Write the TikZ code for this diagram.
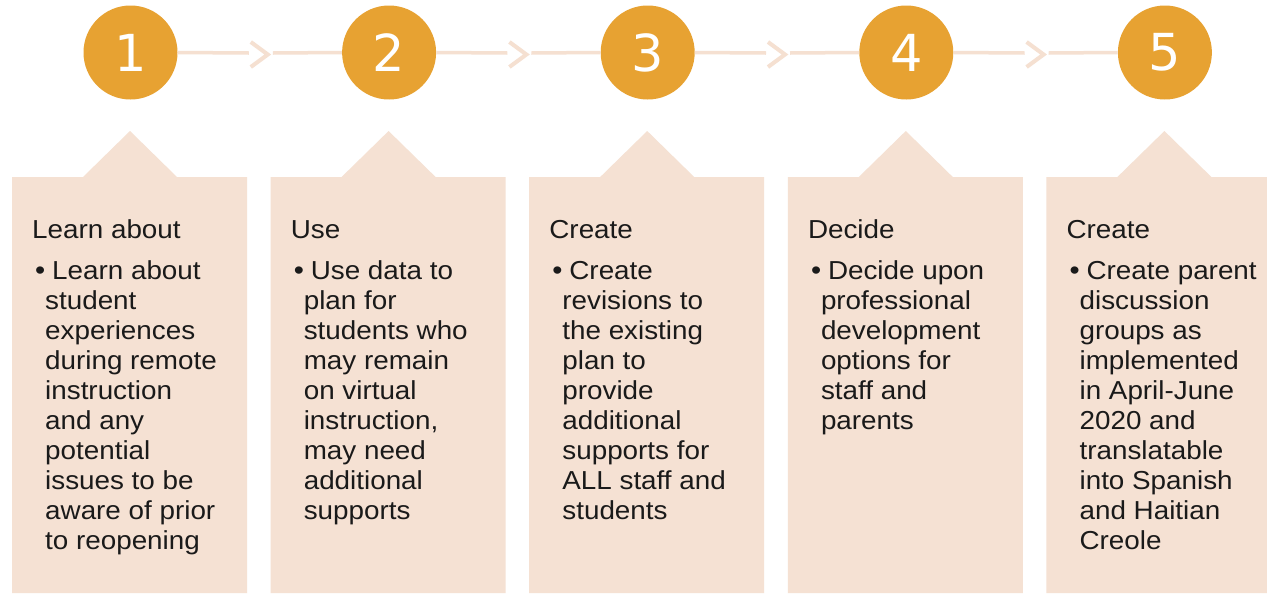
\documentclass[tikz,border=0pt]{standalone}
\usepackage{fontspec}
\setmainfont[FakeStretch=1.07]{Liberation Sans}
\newfontfamily\numfont{DejaVu Sans}
\definecolor{circfill}{HTML}{E7A232}
\definecolor{boxfill}{HTML}{F5E1D3}
\definecolor{linkcol}{HTML}{F5E0D1}
\definecolor{txt}{HTML}{1A1A1A}
\tikzset{
  numcircle/.style={circle, fill=circfill, minimum size=94pt, inner sep=0pt, text=white, font=\numfont\fontsize{51}{51}\selectfont},
  stepbody/.style={fill=boxfill, draw=none},
  linkline/.style={draw=linkcol, line width=3.5pt},
  chev/.style={draw=linkcol, line width=4pt, line cap=butt, line join=miter},
  titletext/.style={anchor=base west, inner sep=0pt, text=txt, font=\fontsize{26}{30}\selectfont},
  bodytext/.style={anchor=north west, inner sep=0pt, text=txt, align=left, font=\fontsize{26}{30}\selectfont},
  bullettext/.style={anchor=base west, inner sep=0pt, text=txt, font=\fontsize{27}{30}\selectfont}
}
\begin{document}
\begin{tikzpicture}[x=1pt, y=-1pt]
\clip (0,0) rectangle (1267,595);
\fill[white] (0,0) rectangle (1267,595);
% boxes with notch
\foreach \i in {0,...,4}{
  \pgfmathsetmacro{\bl}{12+258.6*\i}
  \pgfmathsetmacro{\bc}{\bl+118}
  \path[stepbody] (\bl,177) -- (\bc-47,177) -- (\bc,131) -- (\bc+47,177) -- (\bl+235,177) -- (\bl+235,593) -- (\bl,593) -- cycle;
}
% connector coordinates
\foreach \i in {1,...,4}{
  \pgfmathsetmacro{\mx}{130.5+258.6*\i-129.3}
  \coordinate (e\i) at (\mx-11,53);
  \coordinate (s\i) at (\mx+13,53);
  \coordinate (ca\i) at (\mx-9,42);
  \coordinate (ct\i) at (\mx+8,54.5);
  \coordinate (cb\i) at (\mx-9,67);
}
% circles
\foreach \i in {1,...,5}{
  \pgfmathsetmacro{\cx}{130.5+258.6*(\i-1)}
  \node[numcircle] (c\i) at (\cx,52.5) {\i};
}
% connectors
\foreach \i [evaluate=\i as \j using int(\i+1)] in {1,...,4}{
  \draw[linkline] (c\i.east) -- (e\i);
  \draw[linkline] (s\i) -- (c\j.west);
  \draw[chev] (ca\i) -- (ct\i) -- (cb\i);
}
% texts
\def\bodyA{\hspace*{7pt}Learn about\\student\\experiences\\during remote\\instruction\\and any\\potential\\issues to be\\aware of prior\\to reopening}
\def\bodyB{\hspace*{7pt}Use data to\\plan for\\students who\\may remain\\on virtual\\instruction,\\may need\\additional\\supports}
\def\bodyC{\hspace*{7pt}Create\\revisions to\\the existing\\plan to\\provide\\additional\\supports for\\ALL staff and\\students}
\def\bodyD{\hspace*{7pt}Decide upon\\professional\\development\\options for\\staff and\\parents}
\def\bodyE{\hspace*{7pt}Create parent\\discussion\\groups as\\implemented\\in April-June\\2020 and\\translatable\\into Spanish\\and Haitian\\Creole}
\foreach \i/\ttl/\bd in {0/Learn about/\bodyA, 1/Use/\bodyB, 2/Create/\bodyC, 3/Decide/\bodyD, 4/Create/\bodyE}{
  \pgfmathsetmacro{\bl}{12+258.6*\i}
  \node[titletext] (t\i) at (\bl+20,238) {\ttl};
  \node[bullettext] (u\i) at (\bl+23,279) {\textbullet};
  \node[bodytext] (b\i) at (\bl+33,279-21) {\rule{0pt}{21pt}\bd};
}
\end{tikzpicture}
\end{document}
